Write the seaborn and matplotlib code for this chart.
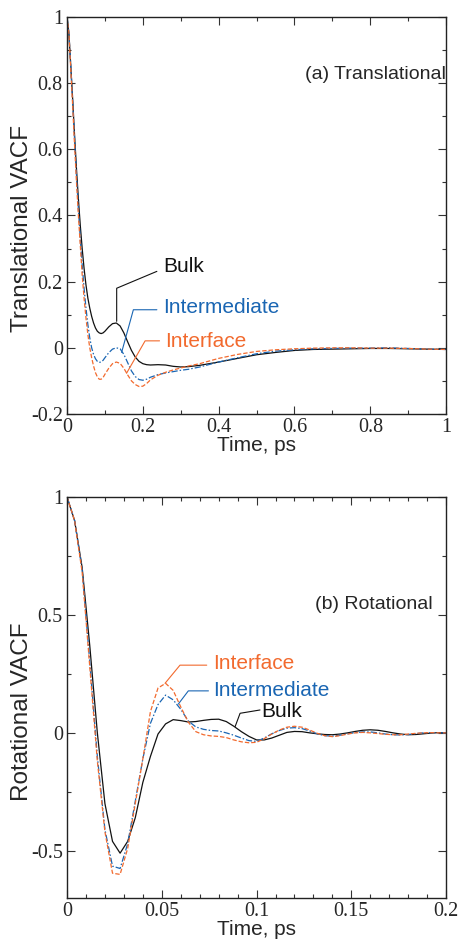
import matplotlib
matplotlib.use("Agg")
import matplotlib.pyplot as plt
import matplotlib.ticker as mticker
import seaborn as sns
import numpy as np

# translational VACF, time in ps
t_trans = [0, 0.005, 0.01, 0.015, 0.02, 0.025, 0.03, 0.035, 0.04, 0.045, 0.05,
           0.055, 0.06, 0.065, 0.07, 0.075, 0.08, 0.085, 0.09, 0.095, 0.10,
           0.11, 0.12, 0.13, 0.14, 0.15, 0.16, 0.17, 0.18, 0.19, 0.20, 0.21,
           0.22, 0.24, 0.26, 0.28, 0.30, 0.32, 0.35, 0.40, 0.45, 0.50, 0.55,
           0.60, 0.65, 0.70, 0.75, 0.80, 0.85, 0.90, 0.95, 1.0]
bulk_trans = [1.0, 0.95, 0.85, 0.75, 0.64, 0.54, 0.45, 0.37, 0.30, 0.24, 0.19,
              0.15, 0.12, 0.095, 0.075, 0.06, 0.05, 0.045, 0.043, 0.045, 0.05,
              0.063, 0.073, 0.075, 0.066, 0.045, 0.018, -0.008, -0.028, -0.041, -0.048, -0.051,
              -0.052, -0.051, -0.052, -0.056, -0.058, -0.057, -0.053, -0.043, -0.032, -0.021, -0.014,
              -0.008, -0.005, -0.004, -0.003, -0.002, -0.002, -0.003, -0.004, -0.005]
inter_trans = [1.0, 0.95, 0.85, 0.74, 0.63, 0.52, 0.42, 0.33, 0.25, 0.18, 0.12,
               0.07, 0.03, 0.0, -0.02, -0.033, -0.041, -0.044, -0.043, -0.038, -0.03,
               -0.015, -0.004, 0.0, -0.003, -0.02, -0.045, -0.07, -0.087, -0.096, -0.098, -0.095,
               -0.089, -0.081, -0.076, -0.072, -0.068, -0.065, -0.058, -0.043, -0.030, -0.018, -0.010,
               -0.006, -0.003, -0.002, -0.001, -0.001, 0.0, -0.002, -0.004, -0.005]
iface_trans = [1.0, 0.95, 0.84, 0.73, 0.61, 0.50, 0.40, 0.31, 0.22, 0.15, 0.09,
               0.04, 0.0, -0.03, -0.055, -0.075, -0.088, -0.095, -0.095, -0.09, -0.08,
               -0.062, -0.048, -0.043, -0.047, -0.062, -0.082, -0.1, -0.111, -0.117, -0.116, -0.108,
               -0.097, -0.083, -0.074, -0.067, -0.061, -0.055, -0.048, -0.032, -0.020, -0.011, -0.006,
               -0.003, -0.001, 0.0, 0.0, -0.001, -0.001, -0.002, -0.004, -0.005]

# rotational VACF, sampled every 0.004 ps
t_rot = np.linspace(0, 0.2, 51)
bulk_rot = [1.0, 0.90, 0.70, 0.37, 0.0, -0.30, -0.46, -0.51, -0.46, -0.36,
            -0.21, -0.10, -0.005, 0.038, 0.056, 0.052, 0.046, 0.048, 0.053, 0.057,
            0.058, 0.048, 0.028, 0.005, -0.015, -0.030, -0.030, -0.022, -0.010, 0.002,
            0.006, 0.005, 0.0, -0.004, -0.007, -0.008, -0.005, 0.0, 0.006, 0.011,
            0.013, 0.011, 0.006, 0.0, -0.005, -0.008, -0.007, -0.004, -0.001, 0.001, 0.001]
inter_rot = [1.0, 0.90, 0.69, 0.30, -0.10, -0.41, -0.565, -0.575, -0.47, -0.29,
             -0.11, 0.04, 0.12, 0.16, 0.14, 0.10, 0.05, 0.025, 0.015, 0.01,
             0.008, 0.0, -0.01, -0.022, -0.033, -0.036, -0.022, -0.004, 0.01, 0.02,
             0.022, 0.018, 0.008, -0.004, -0.012, -0.014, -0.01, -0.004, 0.001, 0.004,
             0.004, 0.0, -0.005, -0.008, -0.009, -0.007, -0.003, 0.0, 0.001, 0.0, 0.0]
iface_rot = [1.0, 0.90, 0.68, 0.28, -0.12, -0.42, -0.595, -0.60, -0.49, -0.30,
             -0.11, 0.09, 0.19, 0.21, 0.18, 0.11, 0.045, 0.005, -0.008, -0.013,
             -0.015, -0.02, -0.03, -0.038, -0.042, -0.040, -0.025, -0.005, 0.012, 0.024,
             0.028, 0.024, 0.012, -0.002, -0.012, -0.016, -0.012, -0.005, 0.0, 0.002,
             0.0, -0.003, -0.006, -0.008, -0.008, -0.005, -0.002, 0.0, 0.001, 0.0, 0.0]

BLACK = "#111111"
BLUE = "#1a66b3"
ORANGE = "#f26a2e"

sns.set_style("ticks")
plt.rcParams["font.family"] = ["Liberation Sans", "DejaVu Sans"]

fig = plt.figure(figsize=(4.59, 9.4), dpi=100)
ax1 = fig.add_axes([0.146, 0.5596, 0.826, 0.4224])
ax2 = fig.add_axes([0.146, 0.0447, 0.826, 0.4266])


def draw(ax, t, bulk, inter, iface):
    sns.lineplot(x=t, y=bulk, ax=ax, color=BLACK, lw=0.9, estimator=None, sort=False)
    sns.lineplot(x=t, y=inter, ax=ax, color=BLUE, lw=0.9, estimator=None, sort=False,
                 dashes=False).lines[-1].set_dashes([5, 1.6, 1.2, 1.6])
    sns.lineplot(x=t, y=iface, ax=ax, color=ORANGE, lw=0.9, estimator=None, sort=False,
                 dashes=False).lines[-1].set_dashes([3.5, 1.6])


def style(ax, xmaj, xmin, ymaj, ymin, xlim, ylim, ylabel, ylpos):
    ax.set_xlim(*xlim)
    ax.set_ylim(*ylim)
    ax.xaxis.set_major_locator(mticker.MultipleLocator(xmaj))
    ax.xaxis.set_minor_locator(mticker.MultipleLocator(xmin))
    ax.yaxis.set_major_locator(mticker.MultipleLocator(ymaj))
    ax.yaxis.set_minor_locator(mticker.MultipleLocator(ymin))
    fmt = mticker.FuncFormatter(lambda v, p: "%g" % round(v, 4))
    ax.xaxis.set_major_formatter(fmt)
    ax.yaxis.set_major_formatter(fmt)
    ax.tick_params(which="both", direction="in", top=True, right=True,
                   width=0.8, color="#333333")
    ax.tick_params(which="major", length=6, labelsize=14.5, pad=3)
    ax.tick_params(which="minor", length=3)
    for lab in ax.get_xticklabels() + ax.get_yticklabels():
        lab.set_family("Liberation Serif")
    for s in ax.spines.values():
        s.set_linewidth(1.0)
        s.set_color("#222222")
    ax.set_xlabel("Time, ps", fontsize=15, labelpad=-1)
    ax.set_ylabel(ylabel, fontsize=17.5)
    ax.yaxis.set_label_coords(-0.09, ylpos)


draw(ax1, t_trans, bulk_trans, inter_trans, iface_trans)
style(ax1, 0.2, 0.1, 0.2, 0.1, (0, 1), (-0.2, 1), "Translational VACF", 0.468)

# leaders and labels, panel (a)
ax1.plot([0.131, 0.131, 0.237], [0.08, 0.18, 0.231], color=BLACK, lw=0.8)
ax1.text(0.253, 0.245, "Bulk", color=BLACK, fontsize=15, va="center")
ax1.plot([0.144, 0.175, 0.237], [-0.014, 0.115, 0.115], color=BLUE, lw=0.8)
ax1.text(0.254, 0.123, "Intermediate", color=BLUE, fontsize=15, va="center")
ax1.plot([0.157, 0.206, 0.244], [-0.077, 0.021, 0.021], color=ORANGE, lw=0.8)
ax1.text(0.259, 0.019, "Interface", color=ORANGE, fontsize=15, va="center")
ax1.text(0.628, 0.825, "(a) Translational", fontsize=14, va="center")

draw(ax2, t_rot, bulk_rot, inter_rot, iface_rot)
style(ax2, 0.05, 0.01, 0.5, 0.25, (0, 0.2), (-0.7, 1), "Rotational VACF", 0.464)

# leaders and labels, panel (b)
ax2.plot([0.0517, 0.0596, 0.0737], [0.21, 0.287, 0.287], color=ORANGE, lw=0.8)
ax2.text(0.0772, 0.294, "Interface", color=ORANGE, fontsize=15, va="center")
ax2.plot([0.0587, 0.064, 0.0746], [0.122, 0.178, 0.178], color=BLUE, lw=0.8)
ax2.text(0.0772, 0.181, "Intermediate", color=BLUE, fontsize=15, va="center")
ax2.plot([0.0887, 0.0913, 0.1018], [0.027, 0.083, 0.097], color=BLACK, lw=0.8)
ax2.text(0.1027, 0.09, "Bulk", color=BLACK, fontsize=15, va="center")
ax2.text(0.1309, 0.544, "(b) Rotational", fontsize=14, va="center")

fig.savefig("out.png", dpi=100)
